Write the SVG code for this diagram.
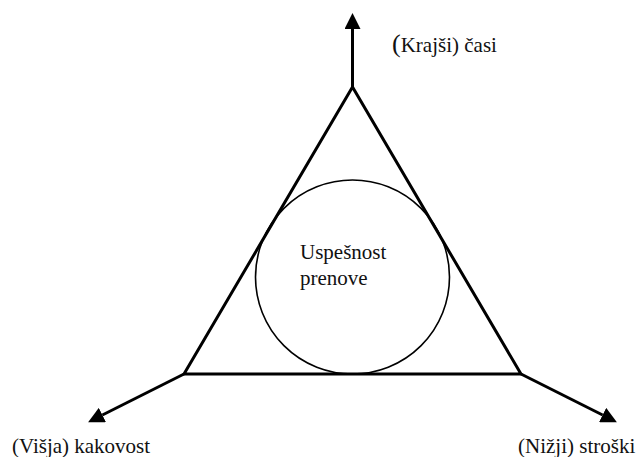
<svg xmlns="http://www.w3.org/2000/svg" width="637" height="457" viewBox="0 0 637 457">
  <style>
    .edge { stroke: #000; stroke-width: 3; fill: none; }
    .label { font-size: 21px; fill: #111; }
  </style>
  <defs>
    <marker id="head" markerUnits="userSpaceOnUse" viewBox="0 0 16 16" refX="0" refY="8" markerWidth="16" markerHeight="16" orient="auto">
      <path d="M0,0 L16,8 L0,16 Z" fill="#000"/>
    </marker>
  </defs>

  <!-- triangle frame -->
  <g id="triangle">
    <polygon class="edge" points="352.5,87 184,374 521,374" stroke-linejoin="miter"/>
  </g>

  <g font-family="Liberation Serif, Times New Roman, serif">
    <!-- inscribed circle with centre label -->
    <g id="uspesnost">
      <circle cx="352.5" cy="277" r="97" fill="none" stroke="#000" stroke-width="1.6"/>
      <text class="label" x="300" y="259">Uspešnost</text>
      <text class="label" x="300" y="285">prenove</text>
    </g>

    <g id="casi">
      <text class="label" x="392" y="52"><tspan font-size="26">(</tspan>Krajši) časi</text>
    </g>
    <g id="kakovost">
      <text class="label" x="12" y="453">(Višja) kakovost</text>
    </g>
    <g id="stroski">
      <text class="label" x="518" y="453">(Nižji) stroški</text>
    </g>
  </g>

  <!-- axes leaving the corners -->
  <g id="connectors">
    <line class="edge" x1="352.5" y1="87" x2="352.5" y2="29" marker-end="url(#head)"/>
    <line class="edge" x1="184" y1="374" x2="102.4" y2="415" marker-end="url(#head)"/>
    <line class="edge" x1="521" y1="374" x2="602.6" y2="415" marker-end="url(#head)"/>
  </g>
</svg>
